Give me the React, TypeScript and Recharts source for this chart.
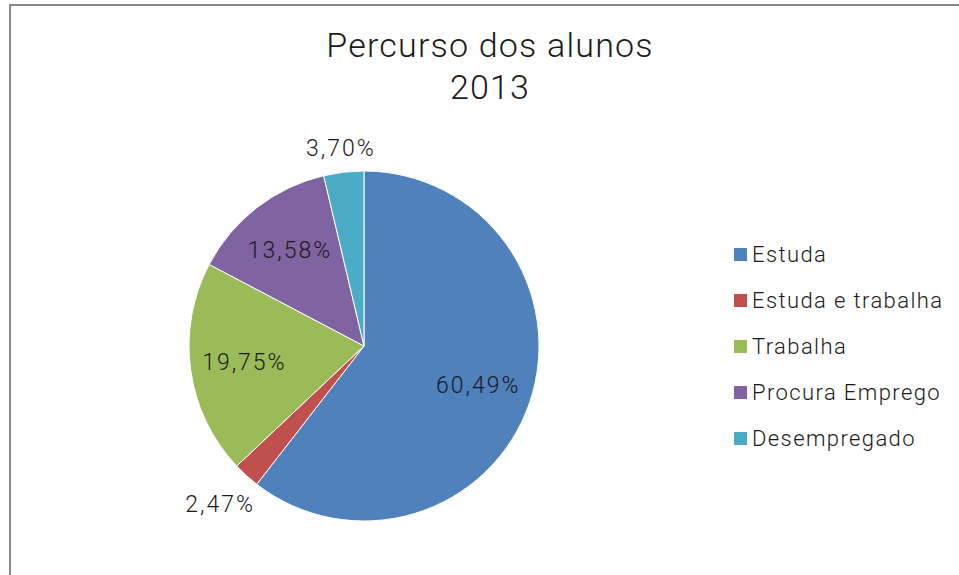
import React from "react";
import { PieChart, Pie, Cell, Legend } from "recharts";

const categories = ["Estuda", "Estuda e trabalha", "Trabalha", "Procura Emprego", "Desempregado"];
const values = [60.49, 2.47, 19.75, 13.58, 3.7];
const labels = ["60,49%", "2,47%", "19,75%", "13,58%", "3,70%"];
const colors = ["#4F81BD", "#C0504D", "#9BBB59", "#8064A2", "#4BACC6"];
const titleLines = ["Percurso dos alunos", "2013"];

const data = categories.map((name, i) => ({ name, value: values[i], label: labels[i] }));

const FONT = "Roboto, 'DejaVu Sans', sans-serif";
const RAD = Math.PI / 180;

const renderLabel = (props: any) => {
  const { cx, cy, midAngle, outerRadius, index, percent } = props;
  const cos = Math.cos(-midAngle * RAD);
  const sin = Math.sin(-midAngle * RAD);
  let r: number;
  if (percent < 0.05) {
    const proj = Math.abs(cos) * 33 + Math.abs(sin) * 12;
    r = outerRadius + proj + 8;
  } else {
    r = outerRadius * 0.69;
  }
  const x = cx + r * cos;
  const y = cy + r * sin;
  return (
    <text
      x={x}
      y={y}
      textAnchor="middle"
      dominantBaseline="central"
      fill="#1a1a1a"
      style={{ fontFamily: FONT, fontSize: 23, fontWeight: 300, letterSpacing: 2 }}
    >
      {labels[index]}
    </text>
  );
};

const renderLegend = () => (
  <div style={{ fontFamily: FONT, fontSize: 22, fontWeight: 300, color: "#1a1a1a", letterSpacing: 1.4 }}>
    {categories.map((c, i) => (
      <div key={c} style={{ display: "flex", alignItems: "center", height: 46 }}>
        <span style={{ width: 13, height: 13, background: colors[i], display: "inline-block", marginRight: 5 }} />
        <span>{c}</span>
      </div>
    ))}
  </div>
);

export default function App() {
  return (
    <div style={{ position: "absolute", left: 0, top: 0, width: 959, height: 575, background: "#fff", overflow: "hidden" }}>
      <div
        style={{
          position: "absolute",
          left: 9,
          top: 4,
          width: 1000,
          height: 700,
          borderTop: "2px solid #888",
          borderLeft: "2px solid #888",
        }}
      />
      <div
        style={{
          position: "absolute",
          left: 0,
          top: 24,
          width: 980,
          textAlign: "center",
          fontFamily: FONT,
          fontSize: 34,
          fontWeight: 300,
          lineHeight: "42px",
          letterSpacing: 1.2,
          color: "#1a1a1a",
        }}
      >
        {titleLines.map((t) => (
          <div key={t}>{t}</div>
        ))}
      </div>
      <div style={{ position: "absolute", left: 0, top: 0 }}>
        <PieChart width={959} height={575} margin={{ top: 0, right: 0, bottom: 0, left: 0 }}>
          <Pie
            data={data}
            dataKey="value"
            nameKey="name"
            cx={364}
            cy={346}
            outerRadius={175}
            startAngle={90}
            endAngle={-270}
            stroke="#fff"
            strokeWidth={1}
            label={renderLabel}
            labelLine={false}
            isAnimationActive={false}
          >
            {data.map((d, i) => (
              <Cell key={d.name} fill={colors[i]} />
            ))}
          </Pie>
          <Legend
            content={renderLegend}
            wrapperStyle={{ position: "absolute", left: 734, top: 231, width: 230 }}
          />
        </PieChart>
      </div>
    </div>
  );
}
